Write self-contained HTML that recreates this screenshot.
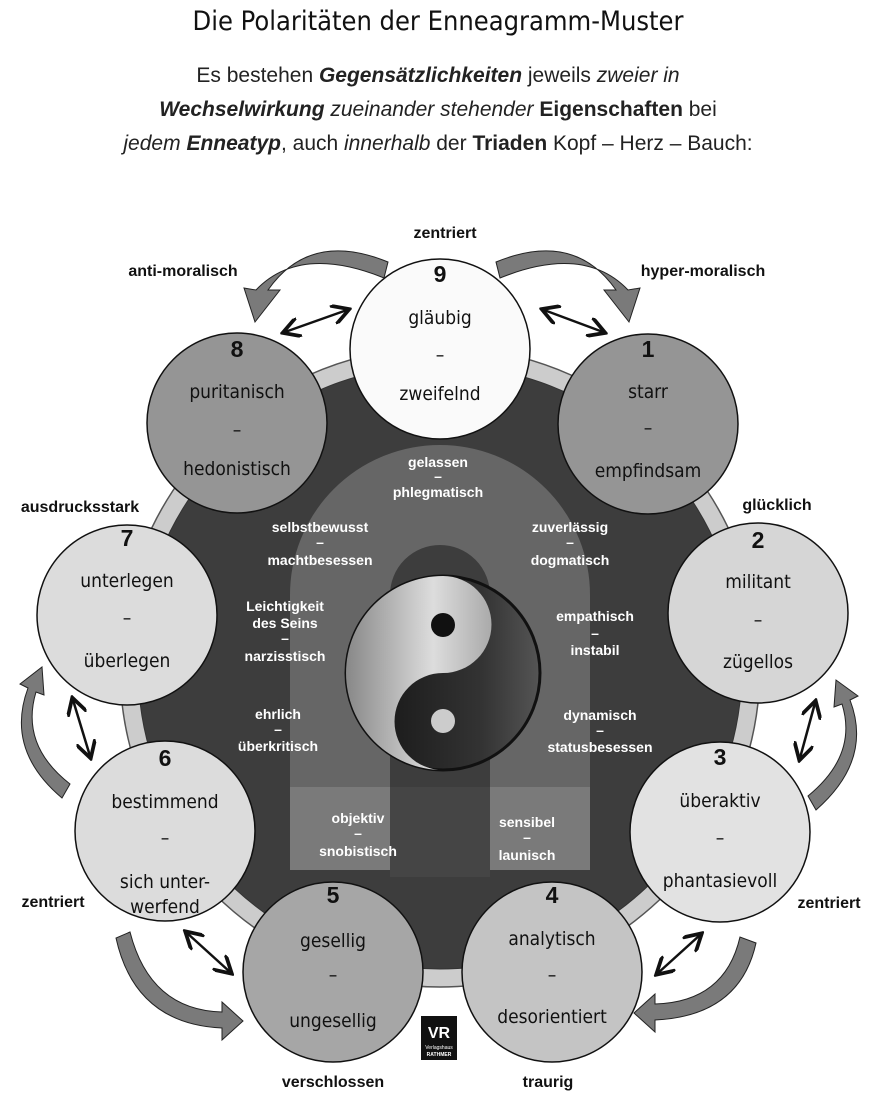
<!DOCTYPE html>
<html><head><meta charset="utf-8"><style>
body{margin:0;background:#fff;width:877px;height:1096px;overflow:hidden}
svg{display:block}
.h{font-family:"DejaVu Sans Condensed","Liberation Sans Narrow",sans-serif;font-size:19px;fill:#111;text-anchor:middle}
.n{font-family:"Liberation Sans",sans-serif;font-weight:bold;font-size:23px;fill:#111;text-anchor:middle}
.l{font-family:"Liberation Sans",sans-serif;font-weight:bold;font-size:16px;fill:#111;text-anchor:middle}
.w{font-family:"Liberation Sans",sans-serif;font-weight:bold;font-size:14px;fill:#fff;text-anchor:middle}
.s{font-family:"Liberation Sans",sans-serif;font-size:21px;fill:#222;text-anchor:middle}
</style></head><body>
<svg width="877" height="1096" viewBox="0 0 877 1096">
<defs>
<marker id="a" markerWidth="8" markerHeight="8" refX="6" refY="4" orient="auto-start-reverse"><path d="M0,0 L7,4 L0,8" fill="none" stroke="#111" stroke-width="1.5"/></marker>
<linearGradient id="yl" x1="0" y1="0" x2="1" y2="0"><stop offset="0" stop-color="#888"/><stop offset=".6" stop-color="#ddd"/><stop offset="1" stop-color="#aaa"/></linearGradient>
<linearGradient id="yd" x1="0" y1="0" x2="1" y2="0"><stop offset="0" stop-color="#111"/><stop offset=".7" stop-color="#333"/><stop offset="1" stop-color="#555"/></linearGradient>
</defs>
<text x="438" y="30" font-family="DejaVu Sans Condensed,sans-serif" font-size="27" text-anchor="middle" fill="#111">Die Polaritäten der Enneagramm-Muster</text>
<text class="s" x="438" y="82">Es bestehen <tspan font-weight="bold" font-style="italic">Gegensätzlichkeiten</tspan> jeweils <tspan font-style="italic">zweier in</tspan></text>
<text class="s" x="438" y="116"><tspan font-weight="bold" font-style="italic">Wechselwirkung</tspan> <tspan font-style="italic">zueinander stehender</tspan> <tspan font-weight="bold">Eigenschaften</tspan> bei</text>
<text class="s" x="438" y="150"><tspan font-style="italic">jedem</tspan> <tspan font-weight="bold" font-style="italic">Enneatyp</tspan>, auch <tspan font-style="italic">innerhalb</tspan> der <tspan font-weight="bold">Triaden</tspan> Kopf – Herz – Bauch:</text>

<circle cx="440" cy="667" r="320" fill="#ccc" stroke="#555" stroke-width="1.5"/>
<circle cx="440" cy="667" r="302" fill="#3d3d3d" stroke="#333"/>
<path d="M340,870 L340,595 A100,100 0 0 1 540,595 L540,870" fill="none" stroke="#666" stroke-width="100"/>
<rect x="290" y="787" width="100" height="83" fill="#7a7a7a"/>
<rect x="490" y="787" width="100" height="83" fill="#7a7a7a"/>
<rect x="390" y="787" width="100" height="90" fill="#454545"/>
<g transform="translate(443,673)">
<circle r="97" fill="url(#yd)" stroke="#111" stroke-width="3"/>
<path d="M0,-97 A97,97 0 0 0 0,97 A48.5,48.5 0 0 1 0,0 A48.5,48.5 0 0 0 0,-97Z" fill="url(#yl)"/>
<circle cy="-48" r="12" fill="#111"/><circle cy="48" r="12" fill="#ccc"/>
</g>
<text class="w" x="438" y="467">gelassen</text><text class="w" x="438" y="481">–</text><text class="w" x="438" y="497">phlegmatisch</text>
<text class="w" x="320" y="532">selbstbewusst</text><text class="w" x="320" y="547">–</text><text class="w" x="320" y="565">machtbesessen</text>
<text class="w" x="570" y="532">zuverlässig</text><text class="w" x="570" y="547">–</text><text class="w" x="570" y="565">dogmatisch</text>
<text class="w" x="285" y="611">Leichtigkeit</text><text class="w" x="285" y="628">des Seins</text><text class="w" x="285" y="643">–</text><text class="w" x="285" y="661">narzisstisch</text>
<text class="w" x="595" y="621">empathisch</text><text class="w" x="595" y="638">–</text><text class="w" x="595" y="655">instabil</text>
<text class="w" x="278" y="719">ehrlich</text><text class="w" x="278" y="734">–</text><text class="w" x="278" y="751">überkritisch</text>
<text class="w" x="600" y="720">dynamisch</text><text class="w" x="600" y="735">–</text><text class="w" x="600" y="752">statusbesessen</text>
<text class="w" x="358" y="823">objektiv</text><text class="w" x="358" y="838">–</text><text class="w" x="358" y="856">snobistisch</text>
<text class="w" x="527" y="827">sensibel</text><text class="w" x="527" y="842">–</text><text class="w" x="527" y="860">launisch</text>

<g stroke="#111" stroke-width="1.5">
<circle cx="440" cy="349" r="90" fill="#fafafa"/>
<circle cx="648" cy="424" r="90" fill="#959595"/>
<circle cx="758" cy="613" r="90" fill="#d6d6d6"/>
<circle cx="720" cy="832" r="90" fill="#e2e2e2"/>
<circle cx="552" cy="972" r="90" fill="#c4c4c4"/>
<circle cx="333" cy="972" r="90" fill="#a6a6a6"/>
<circle cx="165" cy="831" r="90" fill="#dcdcdc"/>
<circle cx="127" cy="615" r="90" fill="#dcdcdc"/>
<circle cx="237" cy="423" r="90" fill="#959595"/>
</g>
<g>
<text class="n" x="440" y="282">9</text><text class="h" x="440" y="324">gläubig</text><text class="h" x="440" y="361">–</text><text class="h" x="440" y="400">zweifelnd</text>
<text class="n" x="648" y="357">1</text><text class="h" x="648" y="398">starr</text><text class="h" x="648" y="434">–</text><text class="h" x="648" y="477">empfindsam</text>
<text class="n" x="758" y="548">2</text><text class="h" x="758" y="588">militant</text><text class="h" x="758" y="626">–</text><text class="h" x="758" y="668">zügellos</text>
<text class="n" x="720" y="765">3</text><text class="h" x="720" y="807">überaktiv</text><text class="h" x="720" y="844">–</text><text class="h" x="720" y="887">phantasievoll</text>
<text class="n" x="552" y="903">4</text><text class="h" x="552" y="945">analytisch</text><text class="h" x="552" y="981">–</text><text class="h" x="552" y="1023">desorientiert</text>
<text class="n" x="333" y="903">5</text><text class="h" x="333" y="947">gesellig</text><text class="h" x="333" y="981">–</text><text class="h" x="333" y="1027">ungesellig</text>
<text class="n" x="165" y="766">6</text><text class="h" x="165" y="808">bestimmend</text><text class="h" x="165" y="844">–</text><text class="h" x="165" y="888">sich unter-</text><text class="h" x="165" y="913">werfend</text>
<text class="n" x="127" y="546">7</text><text class="h" x="127" y="587">unterlegen</text><text class="h" x="127" y="624">–</text><text class="h" x="127" y="667">überlegen</text>
<text class="n" x="237" y="357">8</text><text class="h" x="237" y="398">puritanisch</text><text class="h" x="237" y="436">–</text><text class="h" x="237" y="475">hedonistisch</text>
</g>

<text class="l" x="445" y="238">zentriert</text>
<text class="l" x="183" y="276">anti-moralisch</text>
<text class="l" x="703" y="276">hyper-moralisch</text>
<text class="l" x="80" y="512">ausdrucksstark</text>
<text class="l" x="777" y="510">glücklich</text>
<text class="l" x="53" y="907">zentriert</text>
<text class="l" x="829" y="908">zentriert</text>
<text class="l" x="333" y="1087">verschlossen</text>
<text class="l" x="548" y="1087">traurig</text>

<g fill="#7a7a7a" stroke="#222" stroke-width="1">
<path d="M388,262 Q310,230 268,290 L280,290 L255,322 L244,288 L256,290 Q300,244 384,278Z"/>
<path d="M496,262 Q574,230 616,290 L604,290 L629,322 L640,288 L628,290 Q584,244 500,278Z"/>
<path d="M62,798 Q5,750 28,688 L20,684 L42,667 L44,695 L36,692 Q20,745 70,784Z"/>
<path d="M816,810 Q873,760 850,700 L858,696 L836,680 L834,707 L842,704 Q858,755 808,796Z"/>
<path d="M130,932 Q150,1010 222,1012 L222,1002 L243,1021 L222,1040 L222,1028 Q135,1024 116,938Z"/>
<path d="M740,937 Q725,1002 655,1004 L655,994 L634,1013 L655,1032 L655,1020 Q740,1016 756,943Z"/>
</g>
<g stroke="#111" stroke-width="2.5" marker-start="url(#a)" marker-end="url(#a)">
<line x1="285" y1="332" x2="347" y2="310"/>
<line x1="544" y1="310" x2="603" y2="332"/>
<line x1="73" y1="700" x2="90" y2="756"/>
<line x1="815" y1="703" x2="800" y2="758"/>
<line x1="187" y1="933" x2="230" y2="972"/>
<line x1="700" y1="935" x2="658" y2="973"/>
</g>
<rect x="421" y="1016" width="36" height="44" fill="#111"/>
<text x="439" y="1038" font-family="Liberation Sans,sans-serif" font-weight="bold" font-size="16" fill="#fff" text-anchor="middle">VR</text>
<text x="439" y="1049" font-family="Liberation Sans,sans-serif" font-size="5" fill="#fff" text-anchor="middle">Verlagshaus</text>
<text x="439" y="1056" font-family="Liberation Sans,sans-serif" font-weight="bold" font-size="5" fill="#fff" text-anchor="middle">RATHMER</text>
</svg>
</body></html>
